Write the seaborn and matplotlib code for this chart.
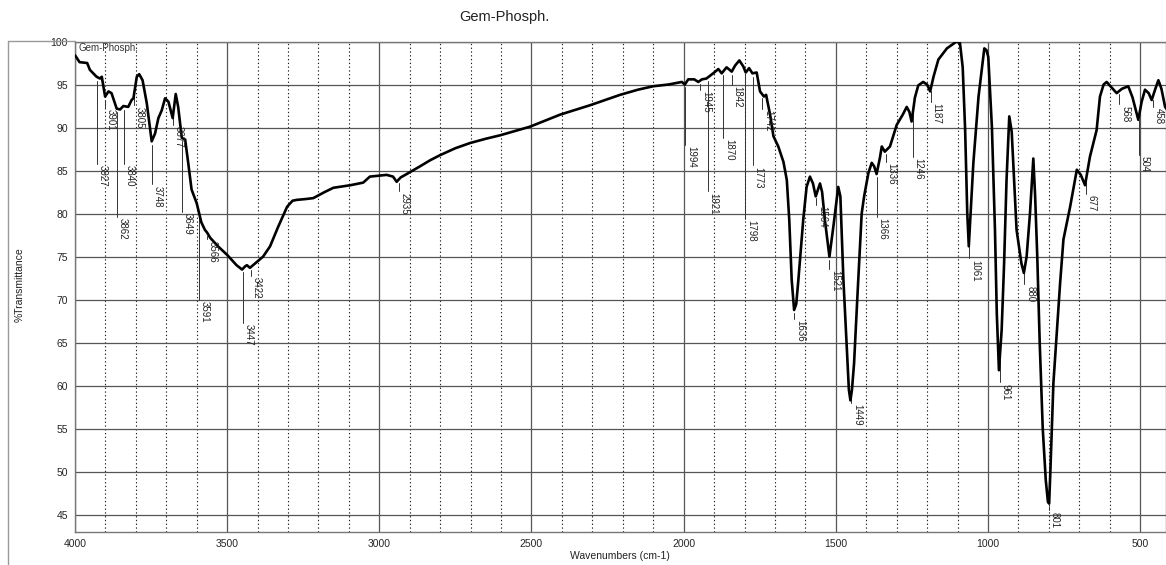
import numpy as np
import pandas as pd
import matplotlib
matplotlib.use("Agg")
import matplotlib.pyplot as plt
from matplotlib.lines import Line2D
import seaborn as sns

# ---- spectrum (wavenumber cm-1, %T) ----
wavenumber = [4000, 3985, 3960, 3951, 3929, 3918, 3912, 3901, 3890, 3880, 3863, 3852, 3841,
              3825, 3814, 3808, 3797, 3789, 3778, 3764, 3748, 3737, 3726, 3715, 3704, 3693,
              3679, 3669, 3661, 3649, 3638, 3628, 3617, 3600, 3592, 3585, 3573, 3566, 3556,
              3530, 3500, 3469, 3451, 3440, 3435, 3425, 3405, 3382, 3359, 3332, 3303, 3285,
              3270, 3240, 3217, 3180, 3151, 3095, 3053, 3031, 2976, 2955, 2943, 2930, 2910,
              2866, 2833, 2800, 2750, 2702, 2650, 2603, 2505, 2406, 2307, 2209, 2150, 2100,
              2050, 2006, 1996, 1985, 1965, 1952, 1940, 1925, 1903, 1886, 1875, 1859, 1842,
              1831, 1817, 1804, 1796, 1785, 1774, 1760, 1749, 1736, 1729, 1716, 1705, 1689,
              1672, 1661, 1653, 1645, 1637, 1630, 1623, 1607, 1596, 1585, 1575, 1566, 1552,
              1545, 1536, 1521, 1508, 1492, 1485, 1475, 1464, 1457, 1452, 1447, 1440, 1429,
              1415, 1407, 1393, 1382, 1374, 1366, 1355, 1349, 1339, 1322, 1300, 1280, 1267,
              1258, 1251, 1240, 1229, 1213, 1200, 1190, 1179, 1163, 1135, 1103, 1092, 1083,
              1075, 1068, 1063, 1058, 1048, 1031, 1012, 1005, 999, 987, 977, 971, 964, 955,
              947, 939, 930, 922, 906, 890, 882, 873, 862, 851, 845, 838, 830, 820, 810, 803,
              799, 795, 790, 785, 774, 763, 752, 730, 708, 695, 681, 665, 643, 632, 620, 610,
              595, 577, 560, 539, 525, 506, 495, 484, 472, 462, 450, 440, 430, 418, 410]
transmittance = [98.4, 97.6, 97.5, 96.7, 95.9, 95.7, 95.9, 93.6, 94.2, 94.0, 92.2, 92.1, 92.5,
                 92.4, 93.2, 93.4, 95.9, 96.2, 95.5, 92.8, 88.4, 89.3, 91.1, 92.0, 93.4, 93.0,
                 91.1, 93.9, 92.4, 88.8, 88.6, 85.9, 82.8, 81.2, 80.0, 79.0, 78.1, 77.8, 77.2,
                 76.2, 75.2, 74.0, 73.5, 73.9, 74.0, 73.7, 74.3, 75.0, 76.2, 78.5, 80.8, 81.5,
                 81.6, 81.7, 81.8, 82.5, 83.0, 83.3, 83.6, 84.3, 84.5, 84.3, 83.7, 84.2, 84.6,
                 85.5, 86.2, 86.8, 87.6, 88.2, 88.7, 89.1, 90.1, 91.5, 92.6, 93.8, 94.4, 94.8,
                 95.0, 95.3, 95.0, 95.6, 95.6, 95.3, 95.6, 95.7, 96.3, 96.8, 96.3, 97.0, 96.5,
                 97.2, 97.8, 97.1, 96.4, 96.9, 96.3, 96.4, 94.2, 93.6, 93.8, 91.5, 89.0, 87.8,
                 86.0, 83.9, 79.3, 72.3, 68.8, 69.5, 72.3, 79.3, 83.1, 84.3, 83.5, 82.0, 83.5,
                 82.5, 79.3, 75.0, 78.5, 83.1, 82.0, 72.3, 64.6, 59.5, 58.3, 59.5, 62.6, 70.4,
                 80.0, 82.0, 84.7, 85.9, 85.5, 84.6, 86.5, 87.8, 87.2, 87.8, 90.3, 91.5, 92.4,
                 91.8, 90.7, 93.5, 94.9, 95.3, 95.0, 94.2, 95.9, 97.9, 99.2, 100.0, 99.8, 97.0,
                 89.7, 80.0, 76.2, 79.5, 85.9, 93.6, 99.2, 99.0, 98.2, 90.0, 78.1, 68.4, 61.8,
                 66.5, 74.2, 83.9, 91.3, 89.5, 78.1, 74.2, 73.1, 75.0, 80.0, 86.4, 82.0, 75.0,
                 65.0, 55.0, 49.0, 46.5, 46.3, 50.0, 55.0, 60.3, 66.1, 71.9, 77.0, 80.8, 85.1,
                 84.5, 83.3, 86.6, 89.7, 93.6, 95.0, 95.3, 94.7, 94.0, 94.5, 94.8, 93.5, 90.9,
                 93.0, 94.4, 94.0, 93.2, 94.5, 95.5, 94.5, 92.4, 92.0]

# ---- peak labels ----
peak_wn = [3927, 3901, 3862, 3840, 3805, 3748, 3677, 3649, 3591, 3566, 3447, 3422, 2935,
           1994, 1945, 1921, 1870, 1842, 1798, 1773, 1742, 1636, 1564, 1521, 1449, 1366,
           1336, 1246, 1187, 1061, 961, 880, 801, 677, 568, 504, 458]
peak_label_y = [85.8, 92.3, 79.6, 85.8, 92.6, 83.4, 90.3, 80.2, 70.0, 77.0, 67.3, 72.8, 82.6,
                88.0, 94.4, 82.6, 88.8, 95.0, 79.4, 85.6, 92.2, 67.8, 81.0, 73.6, 58.0, 79.6,
                86.0, 86.6, 93.0, 74.8, 60.4, 71.8, 45.5, 82.3, 92.7, 86.8, 92.4]

x_ticks = [4000, 3500, 3000, 2500, 2000, 1500, 1000, 500]
y_ticks = [45, 50, 55, 60, 65, 70, 75, 80, 85, 90, 95, 100]

title = "Gem-Phosph."
x_label = "Wavenumbers (cm-1)"
y_label = "%Transmittance"

df = pd.DataFrame({"wn": wavenumber, "T": transmittance})

sns.set_style("white")
plt.rcParams["font.family"] = ["Liberation Sans", "DejaVu Sans"]

W, H = 1166, 565
fig = plt.figure(figsize=(W / 100, H / 100), dpi=100)
ax = fig.add_axes([75 / W, 1 - 532 / H, (W - 75) / W, (532 - 41.5) / H])

# grid
for v in range(500, 4001, 100):
    if v % 500 == 0:
        ax.axvline(v, color="#555555", lw=0.9, zorder=1)
    else:
        ax.axvline(v, color="#222222", lw=0.8, ls=(0, (1.2, 2.2)), zorder=1)
for h in y_ticks:
    ax.axhline(h, color="#555555", lw=0.9, zorder=1)

sns.lineplot(data=df, x="wn", y="T", ax=ax, color="black", lw=1.9, sort=False,
             estimator=None, zorder=3)

ax.set_xlim(4000, 415)
ax.set_ylim(43.0, 100.0)
ax.set_xticks(x_ticks)
ax.set_xticklabels([str(t) for t in x_ticks])
ax.set_yticks(y_ticks)
ax.set_yticklabels([str(t) for t in y_ticks])
ax.set_xticks(list(range(500, 4001, 100)), minor=True)
ax.set_yticks(list(range(44, 101, 1)), minor=True)
ax.tick_params(axis="both", which="major", labelsize=7.5, length=3, width=0.8,
               direction="out", color="#666666", pad=2)
ax.tick_params(axis="both", which="minor", length=2, width=0.6, direction="out",
               color="#666666")
ax.set_xlabel("")
ax.set_ylabel("")
fig.text(620 / W, 1 - 556 / H, x_label, ha="center", va="center", fontsize=7.5,
         color="#222222")
fig.text(20 / W, 1 - 285 / H, y_label, ha="center", va="center", rotation=90,
         fontsize=7.5, color="#222222")
for s in ax.spines.values():
    s.set_color("#777777")
    s.set_linewidth(1.0)

# peak labels
wn_arr = np.array(wavenumber)[::-1]
t_arr = np.array(transmittance)[::-1]
for pw, py in zip(peak_wn, peak_label_y):
    cy = float(np.interp(pw, wn_arr, t_arr))
    if cy - 0.4 > py:
        ax.plot([pw, pw], [cy - 0.4, py], color="#333333", lw=0.7, zorder=2)
    ax.annotate(str(pw), xy=(pw, py), xytext=(0.5, -1), textcoords="offset points",
                rotation=270, ha="left", va="top", fontsize=7, color="#222222", zorder=4)

ax.text(0.003, 0.997, title, transform=ax.transAxes, ha="left", va="top",
        fontsize=7, color="#333333")

fig.text(504 / W, 1 - 17 / H, title, ha="center", va="center", fontsize=10.5, color="#222222")

# outer frame lines
fig.add_artist(Line2D([8 / W, 8 / W], [0, 1 - 41 / H], color="#999999", lw=1.0,
                      transform=fig.transFigure))
fig.add_artist(Line2D([8 / W, 75 / W], [1 - 41 / H, 1 - 41 / H], color="#999999", lw=1.0,
                      transform=fig.transFigure))

fig.savefig("out.png", dpi=100)
